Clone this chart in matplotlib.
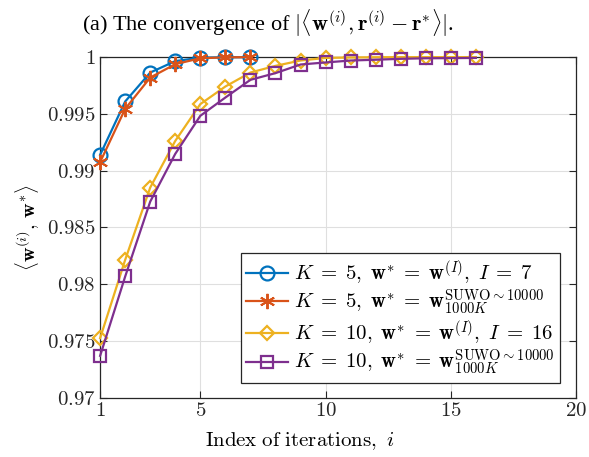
import numpy as np
import matplotlib
matplotlib.use("Agg")
import matplotlib.pyplot as plt

plt.rcParams['mathtext.fontset'] = 'cm'
plt.rcParams['font.family'] = ['Liberation Serif', 'DejaVu Serif']

# data
iters_k5 = np.arange(1, 8)
iters_k10 = np.arange(1, 17)

k5_wI = [0.99139, 0.99609, 0.99864, 0.99965, 0.99995, 0.99999, 1.0]
k5_suwo = [0.99075, 0.99544, 0.99820, 0.99938, 0.99990, 0.99998, 1.0]
k10_wI = [0.97524, 0.98214, 0.98851, 0.99262, 0.99586, 0.99741, 0.99864, 0.99923,
          0.99970, 0.99993, 0.99997, 0.99999, 1.0, 1.0, 1.0, 1.0]
k10_suwo = [0.97368, 0.98067, 0.98727, 0.99148, 0.99483, 0.99644, 0.99800, 0.99859,
            0.99935, 0.99953, 0.99970, 0.99977, 0.99985, 0.99990, 0.99991, 0.99993]

labels = [r"$K\;=\;5,\;\mathbf{w}^{*}\;=\;\mathbf{w}^{(I)},\;I\;=\;7$",
          r"$K\;=\;5,\;\mathbf{w}^{*}\;=\;\mathbf{w}_{1000K}^{\mathrm{SUWO}\sim10000}$",
          r"$K\;=\;10,\;\mathbf{w}^{*}\;=\;\mathbf{w}^{(I)},\;I\;=\;16$",
          r"$K\;=\;10,\;\mathbf{w}^{*}\;=\;\mathbf{w}_{1000K}^{\mathrm{SUWO}\sim10000}$"]

xticks = [1, 5, 10, 15, 20]
yticks = [0.97, 0.975, 0.98, 0.985, 0.99, 0.995, 1.0]

fig = plt.figure(figsize=(5.89, 4.57), dpi=100)
ax = fig.add_axes([0.170, 0.130, 0.808, 0.745])

ax.plot(iters_k5, k5_wI, '-o', color='#0072BD', lw=1.6, ms=10, mfc='none', mew=1.6,
        label=labels[0], clip_on=False, zorder=5)
ax.plot(iters_k5, k5_suwo, '-', marker=(6, 2, 0), color='#D95319', lw=1.6, ms=11, mew=1.4,
        label=labels[1], clip_on=False, zorder=6)
ax.plot(iters_k10, k10_wI, '-D', color='#EDB120', lw=1.6, ms=7, mfc='none', mew=1.6,
        label=labels[2], clip_on=False, zorder=5)
ax.plot(iters_k10, k10_suwo, '-s', color='#7E2F8E', lw=1.6, ms=8, mfc='none', mew=1.6,
        label=labels[3], clip_on=False, zorder=6)

ax.set_xlim(1, 20)
ax.set_ylim(0.97, 1.0)
ax.set_xticks(xticks)
ax.set_xticklabels([f"${v}$" for v in xticks])
ax.set_yticks(yticks)
ax.set_yticklabels(["$0.97$", "$0.975$", "$0.98$", "$0.985$", "$0.99$", "$0.995$", "$1$"])
ax.tick_params(direction='in', top=True, right=True, labelsize=15, length=5,
               width=0.8, colors='#262626')
ax.grid(True, color='#dfdfdf', lw=0.8)
for s in ax.spines.values():
    s.set_color('#262626')
    s.set_linewidth(0.9)

ax.set_xlabel(r"$\mathrm{Index\ of\ iterations,}\ i$", fontsize=15)
ax.xaxis.set_label_coords(0.42, -0.095)
ax.set_ylabel(r"$\left\langle\mathbf{w}^{(i)},\,\mathbf{w}^{*}\right\rangle$", fontsize=14.5, labelpad=4)

leg = ax.legend(loc='lower right', bbox_to_anchor=(0.966, 0.044), fontsize=15,
                fancybox=False, framealpha=1, edgecolor='#262626',
                handlelength=2.0, handletextpad=0.3, borderpad=0.25, labelspacing=0.05,
                borderaxespad=0)
leg.get_frame().set_linewidth(0.9)

fig.text(0.455, 0.950,
         r"(a) The convergence of $|\langle\mathbf{w}^{(i)},\mathbf{r}^{(i)}-\mathbf{r}^{*}\rangle|$.",
         ha='center', va='center', fontsize=16)

fig.savefig("out.png", dpi=100)
